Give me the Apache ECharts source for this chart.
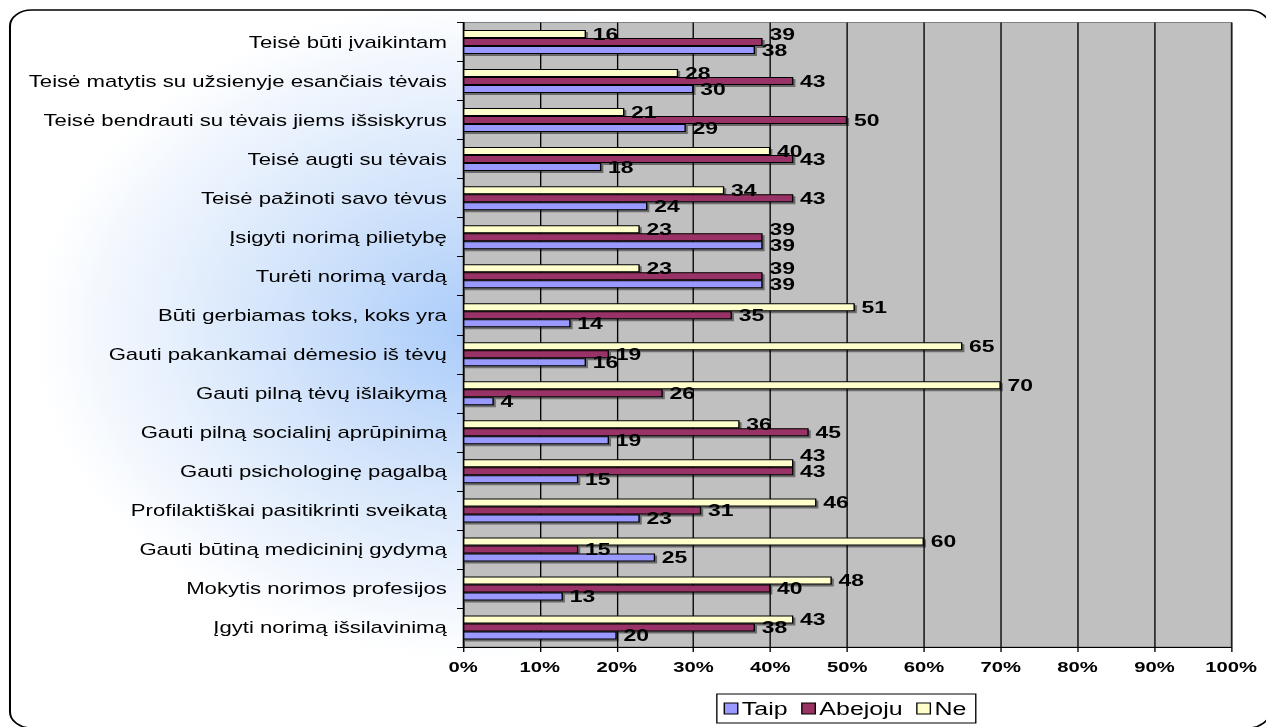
<!DOCTYPE html>
<html>
<head>
<meta charset="utf-8">
<script src="https://cdn.jsdelivr.net/npm/echarts@6/dist/echarts.min.js"></script>
<style>
  html, body { margin: 0; padding: 0; background: #fff; overflow: hidden; }
  /* the original picture is stretched sideways, so draw narrow and stretch */
  #chart { width: 938px; height: 727px; transform: scaleX(1.35); transform-origin: 0 0; }
</style>
</head>
<body>
<div id="chart"></div>
<script>
const categories = [
  'Teisė būti įvaikintam',
  'Teisė matytis su užsienyje esančiais tėvais',
  'Teisė bendrauti su tėvais jiems išsiskyrus',
  'Teisė augti su tėvais',
  'Teisė pažinoti savo tėvus',
  'Įsigyti norimą pilietybę',
  'Turėti norimą vardą',
  'Būti gerbiamas toks, koks yra',
  'Gauti pakankamai dėmesio iš tėvų',
  'Gauti pilną tėvų išlaikymą',
  'Gauti pilną socialinį aprūpinimą',
  'Gauti psichologinę pagalbą',
  'Profilaktiškai pasitikrinti sveikatą',
  'Gauti būtiną medicininį gydymą',
  'Mokytis norimos profesijos',
  'Įgyti norimą išsilavinimą'
]
const taip    = [38, 30, 29, 18, 24, 39, 39, 14, 16, 4, 19, 15, 23, 25, 13, 20]
const abejoju = [39, 43, 50, 43, 43, 39, 39, 35, 19, 26, 45, 43, 31, 15, 40, 38]
const ne      = [16, 28, 21, 40, 34, 23, 23, 51, 65, 70, 36, 43, 46, 60, 48, 43]
const tickLabels = ['0%', '10%', '20%', '30%', '40%', '50%', '60%', '70%', '80%', '90%', '100%']

const font = "'Liberation Sans', Arial, sans-serif"
const chart = echarts.init(document.getElementById('chart'), null, { renderer: 'svg' })

// a label whose value is about the same as the bar just below it is lifted a bit
function withLift(values, below) {
  return values.map(function (v, i) {
    const item = { value: v }
    if (Math.abs(v - below[i]) <= 1) item.label = { offset: [0, -8] }
    return item
  })
}

function barSeries(name, data, color) {
  return {
    name: name,
    type: 'bar',
    data: data,
    barWidth: 8,
    barGap: '0%',
    itemStyle: {
      color: color,
      borderColor: '#000',
      borderWidth: 1,
      shadowColor: 'rgba(0,0,0,0.45)',
      shadowOffsetX: 1.5,
      shadowOffsetY: 2
    },
    label: {
      show: true,
      position: 'right',
      distance: 5,
      color: '#000',
      fontFamily: font,
      fontWeight: 'bold',
      fontSize: 17,
      lineHeight: 17
    },
    emphasis: { disabled: true }
  }
}

const option = {
  animation: false,
  graphic: [{
    type: 'rect',
    z: -10,
    silent: true,
    shape: { x: 7.4, y: 10, width: 933, height: 718, r: 16 },
    style: {
      stroke: '#000',
      lineWidth: 1.5,
      fill: {
        type: 'radial', global: true, x: 355, y: 330, r: 330,
        colorStops: [
          { offset: 0, color: '#a9cbfa' },
          { offset: 0.45, color: '#d3e4fb' },
          { offset: 1, color: '#ffffff' }
        ]
      }
    }
  }],
  legend: {
    data: ['Taip', 'Abejoju', 'Ne'],
    left: 531,
    top: 694,
    itemWidth: 10,
    itemHeight: 11,
    itemGap: 10,
    padding: [5, 7, 5, 5],
    borderColor: '#000',
    borderWidth: 1,
    backgroundColor: '#fff',
    icon: 'rect',
    itemStyle: { borderColor: '#000', borderWidth: 1 },
    textStyle: { color: '#000', fontFamily: font, fontSize: 18.5, padding: [0, 0, 0, -2] }
  },
  grid: {
    left: 343,
    right: 26,
    top: 22.5,
    bottom: 80,
    show: true,
    backgroundColor: '#c0c0c0',
    borderColor: '#808080',
    borderWidth: 1
  },
  xAxis: {
    type: 'value',
    min: 0,
    max: 100,
    interval: 10,
    axisLine: { show: true, lineStyle: { color: '#000', width: 1 } },
    axisTick: { show: true, length: 5, lineStyle: { color: '#000' } },
    splitLine: { show: true, lineStyle: { color: '#000', width: 1 } },
    axisLabel: {
      color: '#000',
      fontFamily: font,
      fontWeight: 'bold',
      fontSize: 15,
      margin: 12,
      formatter: function (v) { return tickLabels[Math.round(v / 10)] }
    }
  },
  yAxis: {
    type: 'category',
    data: categories,
    inverse: true,
    axisLine: { show: true, lineStyle: { color: '#000', width: 1 } },
    axisTick: { show: true, length: 4.5, lineStyle: { color: '#000' } },
    axisLabel: { color: '#000', fontFamily: font, fontSize: 16.4, margin: 12 }
  },
  // on the inverted axis the first series sits on top, so Ne goes first
  series: [
    barSeries('Ne', withLift(ne, abejoju), '#ffffcc'),
    barSeries('Abejoju', withLift(abejoju, taip), '#993366'),
    barSeries('Taip', taip, '#9999ff')
  ]
}

chart.setOption(option)
</script>
</body>
</html>
